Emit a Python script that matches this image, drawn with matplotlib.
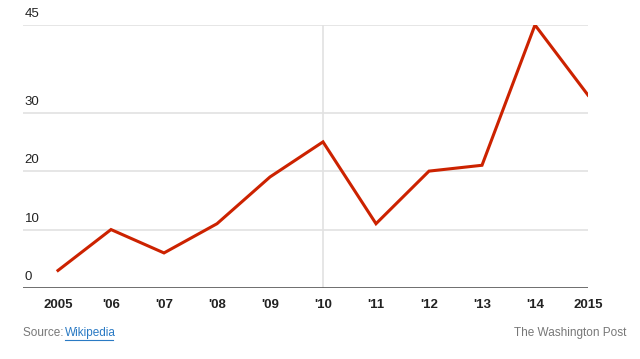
import matplotlib
matplotlib.use("Agg")
import matplotlib.pyplot as plt

years = [2005, 2006, 2007, 2008, 2009, 2010, 2011, 2012, 2013, 2014, 2015]
values = [3, 10, 6, 11, 19, 25, 11, 20, 21, 45, 33]
xlabels = ["2005", "'06", "'07", "'08", "'09", "'10", "'11", "'12", "'13", "'14", "2015"]
yticks = [0, 10, 20, 30, 45]

plt.rcParams['font.family'] = ['Liberation Sans', 'DejaVu Sans']

fig = plt.figure(figsize=(6.4, 3.59), dpi=100)
ax = fig.add_axes([23/640, 1 - 288/359, (588 - 23)/640, (288 - 25)/359])

for y in yticks[1:]:
    ax.axhline(y, color="#e2e2e2", lw=1.2, zorder=1)
for y in yticks:
    ax.text(0.003, y + 0.8, str(y), transform=ax.get_yaxis_transform(),
            fontsize=9.5, color="#222222", va="bottom", ha="left")
ax.axvline(2010, color="#e2e2e2", lw=1.2, zorder=1)
ax.axhline(0, color="#555555", lw=1.2, zorder=2)

ax.plot(years, values, color="#cc2200", lw=2.2, zorder=3, solid_joinstyle="miter")

ax.set_xlim(2005 - 35/53, 2015)
ax.set_ylim(0, 45)
ax.set_yticks([])
ax.set_xticks(years)
ax.set_xticklabels(xlabels, fontsize=9.5, fontweight="bold", color="#222222")
ax.tick_params(axis="x", length=0, pad=8)
for s in ax.spines.values():
    s.set_visible(False)

fig.text(23/640, 1 - 333/359, "Source: ", fontsize=8.5, color="#777777", va="center", ha="left")
fig.text(65/640, 1 - 333/359, "Wikipedia", fontsize=8.5, color="#2a7ac4", va="center", ha="left")
fig.text(626/640, 1 - 333/359, "The Washington Post", fontsize=8.5, color="#777777", va="center", ha="right")
fig.add_artist(plt.Line2D([65/640, 113/640], [1 - 340/359, 1 - 340/359], color="#2a7ac4", lw=0.8))

fig.savefig("out.png", dpi=100)
